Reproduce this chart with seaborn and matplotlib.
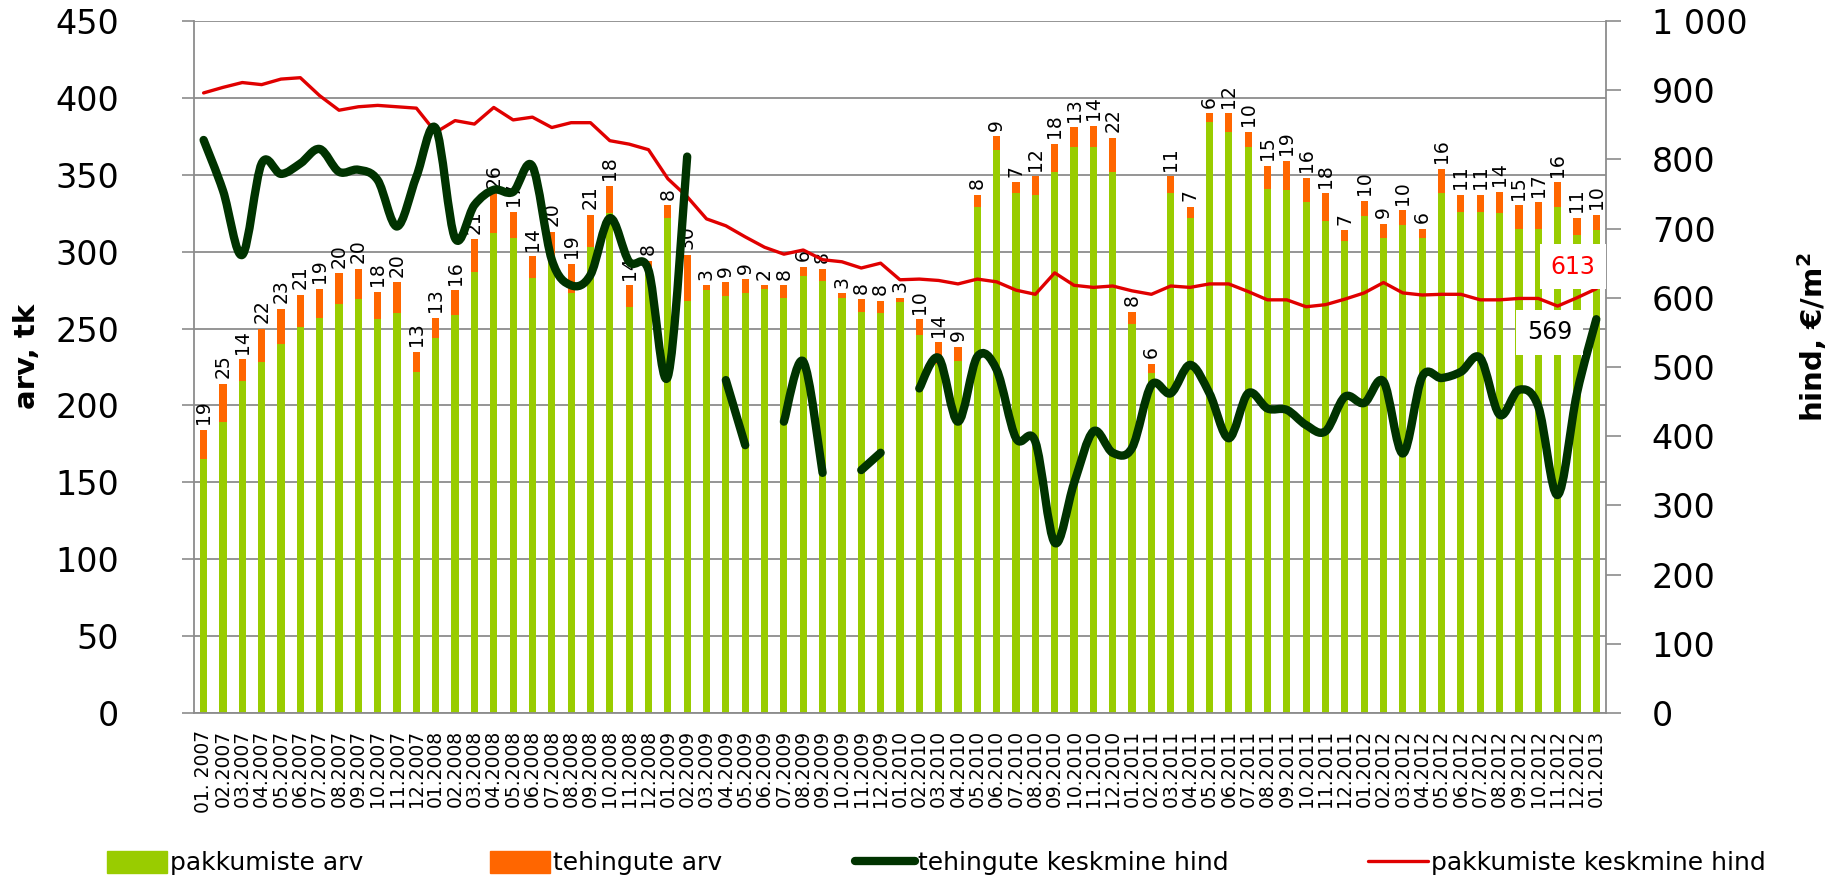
import numpy as np
import pandas as pd
import matplotlib
matplotlib.use("Agg")
import matplotlib.pyplot as plt
import seaborn as sns
from matplotlib.path import Path
from matplotlib.patches import PathPatch, Patch
from matplotlib.lines import Line2D

# months 01.2007 .. 01.2013
months = [f"{m:02d}.{y}" for y in range(2007, 2014) for m in range(1, 13)][:73]
months[0] = "01. 2007"

# pakkumiste arv (green part of bar)
pakkumiste_arv = [165, 189, 216, 228, 240, 251, 257, 266, 269, 256,
                  260, 222, 244, 259, 287, 312, 309, 283, 293, 273,
                  303, 325, 264, 286, 322, 268, 275, 271, 273, 276,
                  270, 284, 281, 270, 261, 260, 267, 246, 227, 229,
                  329, 366, 338, 337, 352, 368, 368, 352, 253, 221,
                  338, 322, 384, 378, 368, 341, 340, 332, 320, 307,
                  323, 309, 317, 309, 338, 326, 326, 325, 315, 315,
                  329, 311, 314]

# tehingute arv (orange part, also the labels)
tehingute_arv = [19, 25, 14, 22, 23, 21, 19, 20, 20, 18,
                 20, 13, 13, 16, 21, 26, 17, 14, 20, 19,
                 21, 18, 14, 8, 8, 30, 3, 9, 9, 2,
                 8, 6, 8, 3, 8, 8, 3, 10, 14, 9,
                 8, 9, 7, 12, 18, 13, 14, 22, 8, 6,
                 11, 7, 6, 12, 10, 15, 19, 16, 18, 7,
                 10, 9, 10, 6, 16, 11, 11, 14, 15, 17,
                 16, 11, 10]

# pakkumiste keskmine hind, EUR/m2
pakk_hind = [896, 904, 911, 908, 916, 918, 892, 871, 876, 878,
             876, 874, 839, 856, 851, 875, 857, 861, 846, 853,
             853, 827, 822, 814, 772, 746, 714, 704, 688, 673,
             663, 669, 655, 652, 643, 650, 626, 627, 625, 620,
             627, 623, 611, 605, 636, 618, 615, 617, 610, 605,
             617, 615, 620, 620, 609, 597, 597, 587, 590, 598,
             607, 622, 607, 604, 605, 605, 597, 597, 599, 599,
             588, 600, 613]

# tehingute keskmine hind, EUR/m2 (gaps = no data)
teh_hind = [828, 755, 662, 794, 779, 794, 815, 782, 785, 770,
            703, 775, 845, 686, 734, 756, 753, 790, 655, 618,
            633, 715, 652, 640, 486, 804, np.nan, 481, 387, np.nan,
            421, 508, 347, np.nan, 351, 376, np.nan, 469, 513, 421,
            515, 496, 397, 392, 246, 332, 407, 376, 383, 474,
            462, 503, 462, 397, 462, 440, 438, 416, 407, 457,
            448, 479, 375, 486, 484, 493, 513, 431, 467, 443,
            315, 462, 569]

GREEN = "#99CC00"
ORANGE = "#FF6600"
DARK = "#003300"
RED = "#E00000"
GRID = "#8C8C8C"

df = pd.DataFrame({"kuu": months, "pakk": pakkumiste_arv, "teh": tehingute_arv})
df["kokku"] = df["pakk"] + df["teh"]


def smooth_path(xs, ys):
    # Excel-like smoothed line: Catmull-Rom segments as cubic Bezier curves
    verts = [(xs[0], ys[0])]
    codes = [Path.MOVETO]
    n = len(xs)
    for i in range(n - 1):
        x0, y0 = (xs[i - 1], ys[i - 1]) if i > 0 else (xs[i], ys[i])
        x3, y3 = (xs[i + 2], ys[i + 2]) if i + 2 < n else (xs[i + 1], ys[i + 1])
        c1 = (xs[i] + (xs[i + 1] - x0) / 6, ys[i] + (ys[i + 1] - y0) / 6)
        c2 = (xs[i + 1] - (x3 - xs[i]) / 6, ys[i + 1] - (y3 - ys[i]) / 6)
        verts += [c1, c2, (xs[i + 1], ys[i + 1])]
        codes += [Path.CURVE4] * 3
    return Path(verts, codes)


sns.set_style("white")
plt.rcParams["font.family"] = ["DejaVu Sans"]
plt.rcParams["text.color"] = "black"
plt.rcParams["axes.labelcolor"] = "black"

fig = plt.figure(figsize=(18.47, 8.88), dpi=100)
ax = fig.add_axes([0.1050, 0.1971, 0.7645, 0.7793])

sns.barplot(data=df, x="kuu", y="kokku", color=ORANGE, saturation=1,
            width=0.37, errorbar=None, ax=ax, zorder=2)
sns.barplot(data=df, x="kuu", y="pakk", color=GREEN, saturation=1,
            width=0.37, errorbar=None, ax=ax, zorder=2)
for p in ax.patches:
    p.set_edgecolor("none")

for i, (tot, t) in enumerate(zip(df["kokku"], df["teh"])):
    ax.annotate(str(t), (i, tot), xytext=(0, 4), textcoords="offset points",
                rotation=90, ha="center", va="bottom", fontsize=13.5, color="black")

ax.set_xlim(-0.5, 72.5)
ax.set_ylim(0, 450)
ax.set_yticks(range(0, 451, 50))
ax.set_xticks(range(73))
ax.set_xticklabels(months, rotation=90, fontsize=13.5)
ax.set_xticks(np.arange(-0.5, 73, 1), minor=True)
ax.tick_params(axis="x", which="major", length=0, pad=12, labelcolor="black")
ax.tick_params(axis="x", which="minor", length=6, color=GRID, width=1.2)
ax.tick_params(axis="y", length=9, color=GRID, width=1.2, pad=45, labelsize=24,
               labelcolor="black")
ax.yaxis.grid(True, color=GRID, lw=1.3)
ax.set_axisbelow(True)
ax.set_xlabel("")
ax.set_ylabel("arv, tk", fontsize=21, fontweight="bold")
ax.yaxis.set_label_coords(-0.108, 0.515)
for s in ["top", "right"]:
    ax.spines[s].set_visible(False)
for s in ["left", "bottom"]:
    ax.spines[s].set_color(GRID)
    ax.spines[s].set_linewidth(1.3)

ax2 = ax.twinx()
ax2.set_ylim(0, 1000)
ax2.set_yticks(range(0, 1001, 100))
ax2.set_yticklabels([f"{v:,}".replace(",", " ") for v in range(0, 1001, 100)])
ax2.tick_params(axis="y", length=11, color=GRID, width=1.2, pad=22, labelsize=24,
                labelcolor="black")
for s in ["top", "left", "bottom"]:
    ax2.spines[s].set_visible(False)
ax2.spines["right"].set_color(GRID)
ax2.spines["right"].set_linewidth(1.3)

x = np.arange(73)
sns.lineplot(x=x, y=pakk_hind, color=RED, lw=2.4, ax=ax2, legend=False)

teh = np.array(teh_hind, dtype=float)
ok = ~np.isnan(teh)
start = None
for i in range(74):
    if i < 73 and ok[i]:
        if start is None:
            start = i
    elif start is not None:
        seg = x[start:i]
        path = smooth_path(seg.astype(float), teh[start:i])
        ax2.add_patch(PathPatch(path, fill=False, ec=DARK, lw=6,
                                capstyle="round", joinstyle="round",
                                transform=ax2.transData, zorder=3))
        start = None

ax2.annotate(f"{pakk_hind[-1]:.0f}", (72, pakk_hind[-1]), xytext=(-23, 22),
             textcoords="offset pixels", ha="center", va="center",
             fontsize=17, color="#FF0000",
             bbox=dict(boxstyle="square,pad=0.45", fc="white", ec="none"))
ax2.annotate(f"{teh_hind[-1]:.0f}", (72, teh_hind[-1]), xytext=(-47, -13),
             textcoords="offset pixels", ha="center", va="center",
             fontsize=17, color="black",
             bbox=dict(boxstyle="square,pad=0.45", fc="white", ec="none"))

ax2.set_ylabel(r"hind, €/m$^\mathbf{2}$", fontsize=21, fontweight="bold")
ax2.yaxis.set_label_coords(1.134, 0.543)

# legend entries placed one by one along the bottom
y_leg = 1 - 863 / 888
entries = [
    (Patch(color=GREEN), "pakkumiste arv", 94),
    (Patch(color=ORANGE), "tehingute arv", 477),
    (Line2D([], [], color=DARK, lw=6), "tehingute keskmine hind", 842),
    (Line2D([], [], color=RED, lw=2.4), "pakkumiste keskmine hind", 1355),
]
for h, lab, px in entries:
    fig.legend([h], [lab], loc="center left", bbox_to_anchor=(px / 1847, y_leg),
               frameon=False, fontsize=18, borderpad=0, handlelength=2.4,
               handleheight=1.0, handletextpad=0.15, labelcolor="black")

fig.savefig("out.png", dpi=100)
